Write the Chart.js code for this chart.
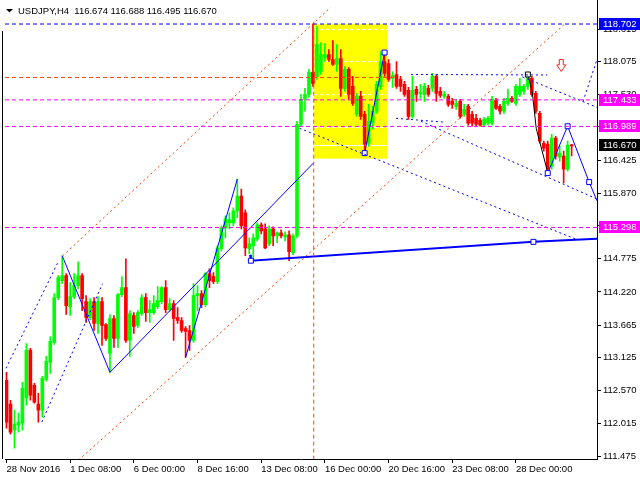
<!DOCTYPE html>
<html>
<head>
<meta charset="utf-8">
<script src="https://cdn.jsdelivr.net/npm/chart.js@4.4.1/dist/chart.umd.min.js"></script>
<style>
html,body{margin:0;padding:0;background:#fff;}
canvas{display:block;}
</style>
</head>
<body>
<canvas id="c" width="640" height="480" style="width:640px;height:480px"></canvas>
<script>
// ---------------- DATA ----------------
const symbol = 'USDJPY,H4';
const xLabels = ['28 Nov 2016','1 Dec 08:00','6 Dec 00:00','8 Dec 16:00','13 Dec 08:00','16 Dec 00:00','20 Dec 16:00','23 Dec 08:00','28 Dec 00:00'];
const xTickIdx = [0,16,32,48,64,80,96,112,128];
const yTicks = [111.475,112.015,112.570,113.125,113.665,114.220,114.775,115.325,115.870,116.425,116.980,117.530,118.075,118.615];

const opens = [112.742,112.342,111.908,111.992,112.025,112.442,113.242,112.658,112.342,112.242,
112.758,113.042,113.375,114.125,114.408,114.492,113.975,114.142,114.325,114.492,
114.058,113.792,114.058,113.692,114.058,113.675,113.192,113.775,113.442,114.175,
114.292,113.408,113.825,113.658,113.858,114.125,113.875,113.875,113.975,114.058,
114.292,113.925,114.025,113.792,113.742,113.608,113.575,113.408,114.158,114.192,
114.008,114.525,114.475,114.392,114.942,115.292,115.375,115.375,115.575,115.825,
115.542,114.942,114.992,115.108,115.342,115.275,115.025,115.275,115.158,115.208,
115.142,115.175,114.875,115.158,117.025,117.442,117.525,117.892,117.825,117.908,
118.142,118.192,118.108,118.025,118.125,117.625,117.942,117.658,117.192,117.492,
117.192,116.708,117.042,117.242,117.658,118.075,118.042,117.792,117.858,117.775,
117.692,117.592,117.158,117.608,117.542,117.525,117.625,117.625,117.825,117.575,
117.492,117.492,117.408,117.325,117.408,117.192,117.325,117.192,117.125,117.092,
117.008,117.042,117.042,117.425,117.325,117.242,117.375,117.458,117.375,117.525,
117.575,117.658,117.792,117.542,117.208,116.708,116.692,116.325,116.792,116.475,
116.492,116.275,116.674];
const highs = [112.875,112.408,112.242,112.192,112.708,113.358,113.275,112.692,112.525,112.808,
113.142,113.475,114.192,114.492,114.825,114.525,114.375,114.525,114.725,114.525,
114.158,114.108,114.125,114.142,114.125,113.692,113.842,113.825,114.192,114.475,
114.775,113.908,113.875,113.908,114.175,114.192,114.075,114.158,114.308,114.308,
114.408,114.108,114.075,113.958,113.792,113.642,113.658,114.358,114.325,114.242,
114.542,114.608,114.542,114.992,115.325,115.492,115.542,115.625,116.108,115.942,
115.592,115.125,115.192,115.375,115.375,115.358,115.325,115.308,115.225,115.258,
115.225,115.242,115.192,117.075,117.525,117.625,117.942,118.702,118.658,118.392,
118.375,118.275,118.425,118.358,118.275,117.992,117.975,117.825,117.542,117.575,
117.242,117.358,117.325,117.742,118.242,118.225,118.108,117.908,118.075,117.825,
117.742,117.642,117.825,117.658,117.692,117.708,117.675,117.875,117.858,117.642,
117.575,117.525,117.458,117.442,117.442,117.358,117.358,117.242,117.192,117.125,
117.142,117.158,117.492,117.458,117.358,117.458,117.608,117.492,117.692,117.792,
117.692,117.858,117.825,117.575,117.242,116.742,116.742,116.858,116.825,116.658,
116.575,116.742,116.688];
const lows = [111.942,111.842,111.608,111.875,111.908,112.325,112.408,112.358,112.042,112.125,
112.725,112.858,113.342,114.092,114.358,113.842,113.825,114.108,114.275,113.908,
113.708,113.758,113.575,113.525,113.325,113.408,112.875,113.292,113.292,114.142,
113.375,113.142,113.525,113.625,113.825,113.725,113.708,113.842,113.942,114.025,
113.875,113.892,113.408,113.692,113.542,113.125,113.242,113.375,113.908,113.958,
113.975,114.292,114.358,114.358,114.908,115.125,115.275,115.325,115.458,115.275,
114.825,114.858,114.742,115.075,115.192,114.942,114.992,114.992,115.042,115.125,
115.075,114.742,114.842,115.125,116.992,117.242,117.475,117.658,117.775,117.858,
118.075,118.075,118.008,117.908,117.492,117.575,117.442,117.342,117.158,117.108,
116.542,116.658,116.942,117.208,117.608,117.825,117.742,117.642,117.625,117.575,
117.492,117.108,117.125,117.408,117.458,117.408,117.492,117.575,117.408,117.475,
117.458,117.325,117.292,117.275,117.125,117.158,117.008,116.992,116.992,116.992,
116.992,117.008,117.008,117.275,117.192,117.208,117.342,117.392,117.342,117.492,
117.525,117.608,117.492,117.208,116.708,116.575,116.208,116.275,116.442,116.408,
116.042,116.242,116.495];
const closes = [112.042,111.875,112.008,112.042,112.608,113.242,112.492,112.375,112.242,112.775,
113.058,113.392,114.125,114.458,114.492,113.992,114.142,114.325,114.492,114.108,
113.792,114.058,113.692,114.058,113.658,113.442,113.775,113.442,114.175,114.292,
113.408,113.858,113.642,113.875,114.125,113.875,113.925,114.025,114.075,114.292,
113.925,114.025,113.775,113.742,113.575,113.558,113.408,114.158,114.192,114.008,
114.525,114.408,114.392,114.958,115.292,115.442,115.425,115.575,115.825,115.325,
114.958,115.025,115.125,115.342,115.242,114.958,115.275,115.158,115.208,115.158,
115.175,114.892,115.158,117.025,117.442,117.525,117.892,117.708,118.358,118.192,
118.192,118.108,118.025,118.125,117.625,117.942,117.525,117.375,117.492,117.158,
116.692,117.075,117.242,117.692,118.075,117.875,117.775,117.842,117.658,117.658,
117.525,117.158,117.592,117.525,117.558,117.658,117.525,117.825,117.542,117.508,
117.525,117.358,117.358,117.375,117.158,117.275,117.042,117.042,117.025,117.008,
117.108,117.125,117.442,117.292,117.242,117.408,117.458,117.408,117.658,117.658,
117.658,117.825,117.525,117.242,116.742,116.625,116.275,116.792,116.492,116.542,
116.275,116.675,116.670];

// level labels on the price scale
const levelValues = [118.702, 117.433, 116.989, 115.298];
const levelColors = ['#0000FF', '#FF00FF', '#FF00FF', '#FF00FF'];
const bidValue = 116.670;

// drawn objects, in [bar index, price]
const orangeUpper = [[14.125,114.825],[81.625,118.992]];
const orangeLower = [[18.125,111.408],[140.375,118.708]];
const orangeHoriz = [[-0.375,117.808],[97.9,117.808]];
const orangeVert = [[77.2,118.742],[77.2,111.425]];
const yellowBox = [[77.3,118.700],[95.8,116.450]];
const blueDotA = [[-0.125,112.942],[12.875,114.708]];
const blueDotB = [[8.875,112.042],[24.125,114.358]];
const blueDot1 = [[73.625,116.958],[142.875,115.108]];
const blueDot3a = [[97.875,117.125],[110.375,117.058]];
const blueDot3b = [[104.125,117.075],[148.375,115.775]];
const blueDot4 = [[101.625,117.858],[135.875,117.850]];
const blueDot5 = [[129.625,117.817],[148.375,117.308]];
const blueDot6 = [[144.875,117.408],[148.375,118.108]];
const zig1 = [[14,114.825],[26,112.875]];
const trend1 = [[26,112.875],[77.1,116.375]];
const zig2 = [[45,113.125],[58,116.108]];
const thickLine = [[61.2,114.842],[61.4,114.742],[132.4,115.058],[148.375,115.108]];
const boxZig = [[90,116.542],[95,118.225]];
const endZig = [[136,116.208],[141,116.992],[146.4,116.058],[148.4,115.742]];
const blackZig = [[131,117.858],[132.1,117.575],[133.1,116.958],[135.9,116.242]];
const arrowPos = [139.4, 118.108, 117.908];

// ---------------- CHART ----------------
const X_MIN = -0.375, X_MAX = 148.375;
const Y_MIN = 111.425, Y_MAX = 118.975;
const FONT = {family: 'Liberation Sans', size: 9.5};
Chart.defaults.font.family = 'Liberation Sans';
Chart.defaults.font.size = 9.5;

const idx = opens.map((_, i) => i);
const candleColor = idx.map(i => closes[i] >= opens[i] ? '#00FF00' : '#FF0000');
const minBody = 1/60;
const bodies = idx.map(i => {
  let a = Math.min(opens[i], closes[i]), b = Math.max(opens[i], closes[i]);
  if (b - a < minBody) { const m = (a + b) / 2; a = m - minBody/2; b = m + minBody/2; }
  return {x: i, y: [a, b]};
});
const wicks = idx.map(i => ({x: i, y: [lows[i], highs[i]]}));

function pts(arr){ return arr.map(p => ({x: p[0], y: p[1]})); }
function lineDs(arr, color, dash, width, radii, ptColor){
  return {
    type: 'line', data: pts(arr), borderColor: color, borderWidth: width || 1,
    borderDash: dash || [], pointRadius: radii || 0, pointStyle: 'rect',
    pointBackgroundColor: '#fff', pointBorderColor: ptColor || color, pointBorderWidth: 1,
    fill: false, tension: 0, order: 1, clip: 0
  };
}
const datasets = [];
levelValues.forEach((v, k) => datasets.push(lineDs([[X_MIN, v],[X_MAX, v]], levelColors[k], [4,3])));
datasets.push(lineDs(orangeHoriz, '#FF4500', [4,3]));
datasets.push(lineDs(orangeVert, '#FF4500', [4,3]));
datasets.push(lineDs(orangeUpper, '#FF4500', [2,3]));
datasets.push(lineDs(orangeLower, '#FF4500', [2,3]));
[blueDotA, blueDotB, blueDot1, blueDot3a, blueDot3b, blueDot4, blueDot5, blueDot6].forEach(a =>
  datasets.push(lineDs(a, '#0000FF', [2,3])));
datasets.push(lineDs(zig1, '#0000FF'));
datasets.push(lineDs(trend1, '#0000FF'));
datasets.push(lineDs(zig2, '#0000FF'));
datasets.push(lineDs(thickLine, '#0000FF', [], 2, [0,3.5,3.5,0]));
datasets.push(lineDs(boxZig, '#0000FF', [], 1, [3.5,3.5]));
datasets.push(lineDs(endZig, '#0000FF', [], 1, [3.5,3.5,3.5,0]));
datasets.push(lineDs(blackZig, '#000000', [], 1, [3.5,0,0,0]));
datasets.push({type:'bar', data: bodies, backgroundColor: candleColor, barThickness: 3, grouped: false, borderWidth: 0, order: 5});
datasets.push({type:'bar', data: wicks, backgroundColor: candleColor, barThickness: 1, grouped: false, borderWidth: 0, order: 6});

const backPlugin = {
  id: 'back',
  beforeDraw(chart){
    const {ctx, scales:{x, y}} = chart;
    const x1 = x.getPixelForValue(yellowBox[0][0]), x2 = x.getPixelForValue(yellowBox[1][0]);
    const y1 = y.getPixelForValue(yellowBox[0][1]), y2 = y.getPixelForValue(yellowBox[1][1]);
    ctx.save();
    ctx.fillStyle = '#FFFF00';
    ctx.fillRect(x1, y1, x2 - x1, y2 - y1);
    ctx.beginPath(); ctx.rect(x1, y1, x2 - x1, y2 - y1); ctx.clip();
    ctx.strokeStyle = '#FFFFFF'; ctx.lineWidth = 1;
    ctx.setLineDash([3,3]);
    yTicks.forEach(v => {
      const py = Math.round(y.getPixelForValue(v)) + 0.5;
      ctx.beginPath(); ctx.moveTo(x1, py); ctx.lineTo(x2, py); ctx.stroke();
    });
    ctx.setLineDash([]);
    const by = Math.round(y.getPixelForValue(bidValue)) + 0.5;
    ctx.beginPath(); ctx.moveTo(x1, by); ctx.lineTo(x2, by); ctx.stroke();
    ctx.restore();
  },
  afterDraw(chart){
    const {ctx, chartArea, scales:{x, y}} = chart;
    ctx.save();
    // frame pieces
    ctx.strokeStyle = '#000'; ctx.lineWidth = 1;
    ctx.beginPath(); ctx.moveTo(2.5, 31); ctx.lineTo(2.5, chartArea.bottom); ctx.stroke();
    ctx.beginPath(); ctx.moveTo(Math.round(chartArea.right) + 0.5, 0); ctx.lineTo(Math.round(chartArea.right) + 0.5, chartArea.top + 1); ctx.stroke();
    // arrow
    const ax = x.getPixelForValue(arrowPos[0]);
    const at = y.getPixelForValue(arrowPos[1]), ab = y.getPixelForValue(arrowPos[2]);
    const hm = at + (ab - at) * 0.45;
    ctx.beginPath();
    ctx.moveTo(ax - 2, at); ctx.lineTo(ax + 2, at); ctx.lineTo(ax + 2, hm); ctx.lineTo(ax + 4.5, hm);
    ctx.lineTo(ax, ab); ctx.lineTo(ax - 4.5, hm); ctx.lineTo(ax - 2, hm); ctx.closePath();
    ctx.strokeStyle = '#FF2020'; ctx.stroke();
    // price labels
    ctx.font = '9.5px "Liberation Sans"';
    ctx.textBaseline = 'middle'; ctx.textAlign = 'left';
    const boxes = levelValues.map((v, k) => [v, levelColors[k]]).concat([[bidValue, '#000000']]);
    boxes.forEach(([v, col]) => {
      const py = Math.round(y.getPixelForValue(v));
      ctx.fillStyle = col;
      ctx.fillRect(599, py - 6, 41, 12);
      ctx.fillStyle = '#FFFFFF';
      ctx.fillText(v.toFixed(3), 603, py + 0.5);
    });
    // header
    ctx.fillStyle = '#000';
    ctx.beginPath(); ctx.moveTo(6, 9); ctx.lineTo(13, 9); ctx.lineTo(9.5, 12.5); ctx.closePath(); ctx.fill();
    const n = opens.length - 1;
    const head = symbol + '  ' + [opens[n], highs[n], lows[n], closes[n]].map(v => v.toFixed(3)).join(' ');
    ctx.fillText(head, 18, 11);
    ctx.restore();
  }
};

new Chart(document.getElementById('c'), {
  type: 'bar',
  data: {datasets},
  options: {
    responsive: false, animation: false, devicePixelRatio: 1, events: [],
    layout: {padding: {left: 2, top: 6, right: 0, bottom: 0}},
    plugins: {legend: {display: false}, tooltip: {enabled: false}, title: {display: false}},
    scales: {
      x: {
        type: 'linear', min: X_MIN, max: X_MAX, position: 'bottom', offset: false,
        afterBuildTicks: s => { s.ticks = xTickIdx.map(v => ({value: v})); },
        afterFit: s => { s.height = 21; },
        grid: {drawOnChartArea: false, drawTicks: true, tickLength: 4, tickColor: '#000', color: '#000', offset: false},
        border: {display: true, color: '#000', width: 1},
        ticks: {autoSkip: false, maxRotation: 0, minRotation: 0, align: 'start', padding: 1, color: '#000', font: FONT,
          callback: v => { const k = xTickIdx.indexOf(v); return k >= 0 ? xLabels[k] : ''; }}
      },
      y: {
        type: 'linear', position: 'right', min: Y_MIN, max: Y_MAX,
        afterBuildTicks: s => { s.ticks = yTicks.map(v => ({value: v})); },
        afterFit: s => { s.width = 43; },
        grid: {drawOnChartArea: false, drawTicks: true, tickLength: 4, tickColor: '#000', color: '#000'},
        border: {display: true, color: '#000', width: 1},
        ticks: {padding: 2, color: '#000', font: FONT, callback: v => Number(v).toFixed(3)}
      }
    }
  },
  plugins: [backPlugin]
});
</script>
</body>
</html>
